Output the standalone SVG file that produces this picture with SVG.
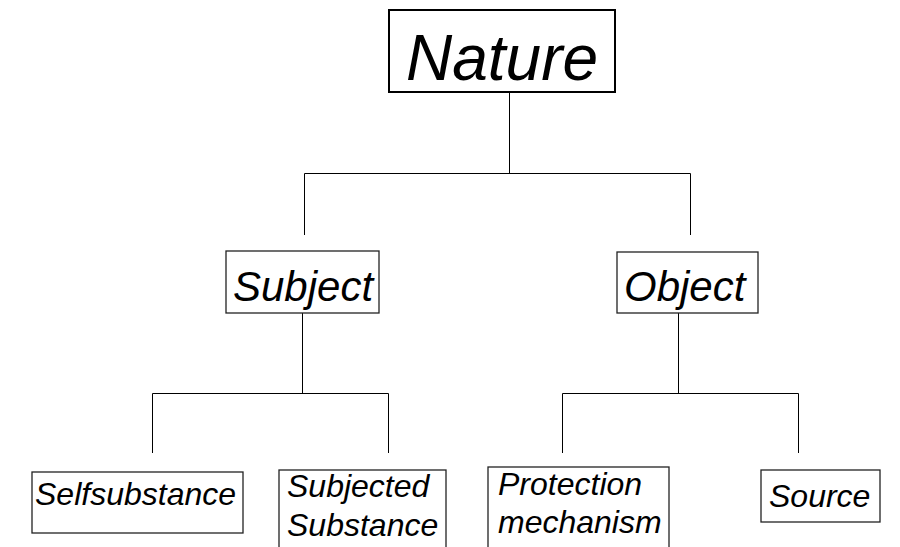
<svg xmlns="http://www.w3.org/2000/svg" width="900" height="547" viewBox="0 0 900 547">
<style>
.box{fill:#fff;stroke:#222;stroke-width:1.3}
.t{font-family:"Liberation Sans",Arial,sans-serif;font-style:italic;fill:#000}
.c{fill:none;stroke:#000;stroke-width:1}
</style>
<rect width="900" height="547" fill="#fff"/>
<g id="connectors">
<path class="c" d="M509.5 92V173.5M304.5 173.5H690.5M304.5 173.5V235M690.5 173.5V235"/>
<path class="c" d="M302.5 313V393.5M152.5 393.5H388.5M152.5 393.5V453M388.5 393.5V453"/>
<path class="c" d="M678.5 313V393.5M562.5 393.5H798.5M562.5 393.5V453M798.5 393.5V453"/>
</g>
<g id="nature">
<rect x="389" y="10" width="226" height="82" fill="#fff" stroke="#000" stroke-width="2"/>
<text class="t" x="502" y="80" font-size="64" text-anchor="middle">Nature</text>
</g>
<g id="subject">
<rect class="box" x="226" y="251" width="153" height="62"/>
<text class="t" x="233" y="301" font-size="42">Subject</text>
</g>
<g id="object">
<rect class="box" x="617" y="252" width="141" height="61"/>
<text class="t" x="624" y="301" font-size="42">Object</text>
</g>
<g id="selfsubstance">
<rect class="box" x="32" y="472" width="211" height="61"/>
<text class="t" x="35" y="505" font-size="32">Selfsubstance</text>
</g>
<g id="subjected-substance">
<rect class="box" x="279" y="470" width="167" height="90"/>
<text class="t" x="287" y="497" font-size="32">Subjected</text>
<text class="t" x="287" y="536" font-size="32">Substance</text>
</g>
<g id="protection-mechanism">
<rect class="box" x="488" y="467" width="181" height="93"/>
<text class="t" x="498" y="495" font-size="32">Protection</text>
<text class="t" x="498" y="533" font-size="32">mechanism</text>
</g>
<g id="source">
<rect class="box" x="761" y="470" width="119" height="52"/>
<text class="t" x="769" y="507" font-size="32">Source</text>
</g>
</svg>
